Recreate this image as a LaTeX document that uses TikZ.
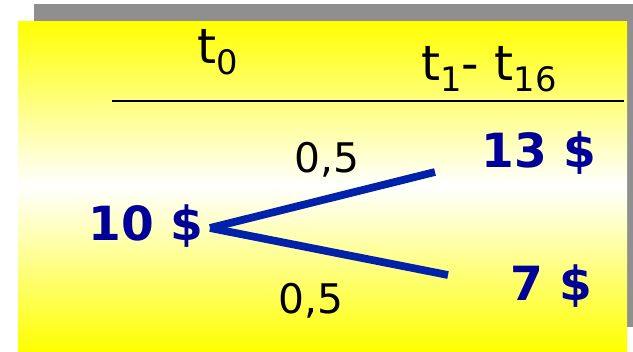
\documentclass[tikz,border=0pt]{standalone}
\usepackage{fontspec}
\setmainfont{DejaVu Sans}
\usetikzlibrary{positioning}
\definecolor{pricecol}{HTML}{000099}
\definecolor{branchcol}{HTML}{0022AA}
\definecolor{shadowgray}{HTML}{8F8F8F}
\newcommand{\tsub}[1]{\raisebox{-8.5pt}{\fontsize{24}{24}\selectfont #1}}

\begin{document}
\begin{tikzpicture}[x=0.025cm, y=-0.025cm,
    period/.style={font=\fontsize{34.5}{34.5}\selectfont, inner sep=0pt, anchor=base west},
    price/.style={font=\fontsize{33.5}{33.5}\selectfont\bfseries, text=pricecol, inner sep=0pt, anchor=base west},
    prob/.style={font=\fontsize{29}{29}\selectfont, inner sep=0pt, anchor=base west},
    branch/.style={branchcol, line width=5.5pt}
]
    \useasboundingbox (0,0) rectangle (633,351);
    % panel with shadow
    \fill[shadowgray] (34,4) rectangle (633,327);
    \shade[top color=yellow, bottom color=yellow, middle color=white] (18,21) rectangle (627,351);
    % header
    \node[period] (tnow) at (197,63) {t\tsub{0}};
    \node[period] (tlater) at (421,80) {t\tsub{1}- t\tsub{16}};
    \coordinate (ruleL) at (112,101);
    \coordinate (ruleR) at (624,101);
    \draw[line width=1.6pt] (ruleL) -- (ruleR);
    % prices
    \node[price] (spot) at (88,240) {10 \$};
    \node[price] (up) at (481,167) {13 \$};
    \node[price] (down) at (510,300) {7 \$};
    \node[prob] (pup) at (294,172) {0,5};
    \node[prob] (pdown) at (278,313) {0,5};
    % branches
    \coordinate (root) at (210,228);
    \coordinate (upend) at (435,172);
    \coordinate (downend) at (448,275);
    \draw[branch] (root) -- (upend);
    \draw[branch] (root) -- (downend);
\end{tikzpicture}
\end{document}
